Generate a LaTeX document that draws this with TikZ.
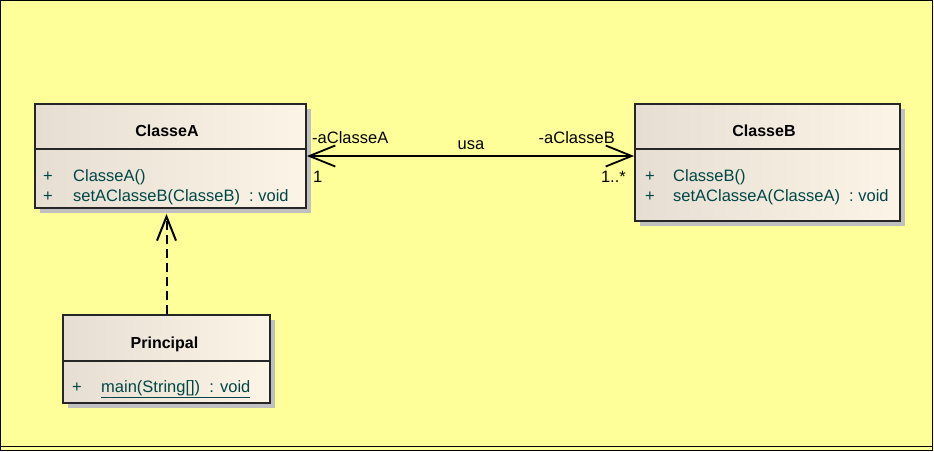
\documentclass[tikz,border=0pt]{standalone}
\usepackage{fontspec}
\setmainfont{Liberation Sans}
\usetikzlibrary{shadows}
\usetikzlibrary{positioning}
\usetikzlibrary{arrows.meta,calc}
\definecolor{bgyellow}{RGB}{255,255,153}
\definecolor{boxleft}{RGB}{230,222,210}
\definecolor{boxright}{RGB}{252,244,230}
\definecolor{shadowgrey}{RGB}{192,192,192}
\definecolor{membercol}{RGB}{0,70,70}
\tikzstyle{classbox}=[draw=black!85,line width=1.8pt,left color=boxleft,right color=boxright,inner sep=0pt,drop shadow={shadow xshift=5pt,shadow yshift=-5pt,fill=shadowgrey,opacity=1}]
\tikzstyle{title}=[font=\bfseries\fontsize{16}{19}\selectfont,anchor=base,inner sep=0pt]
\tikzstyle{member}=[font=\fontsize{16.5}{19}\selectfont,text=membercol,anchor=base west,inner sep=0pt]
\tikzstyle{role}=[font=\fontsize{16.5}{19}\selectfont,inner sep=0pt]
\tikzstyle{assoc}=[draw,line width=1.8pt,{Straight Barb[length=26pt,width=21pt]}-{Straight Barb[length=26pt,width=21pt]}]
\tikzstyle{depend}=[draw,line width=2pt,dash pattern=on 9pt off 5pt,-{Straight Barb[length=24pt,width=19pt]}]

\begin{document}
\begin{tikzpicture}[x=1pt,y=-1pt]

  % background and frame
  \fill[bgyellow] (0,0) rectangle (934,451);
  \useasboundingbox (0,0) rectangle (934,451);
  \draw[line width=1.2pt] (0.6,0.6) rectangle (932.6,450.4);
  \draw[line width=1pt] (0,446) -- (933,446);

  % classes
  \node[classbox, minimum width=271pt, minimum height=104pt] (ClasseA) at (170.5,156) {};
  \node[classbox, minimum width=265pt, minimum height=117pt] (ClasseB) at (767.5,162.5) {};
  \node[classbox, minimum width=207pt, minimum height=88pt] (Principal) at (166.5,359) {};

  \foreach \name/\dy in {ClasseA/46, ClasseB/46, Principal/47}
    \draw[draw=black!85, line width=1.8pt] ([yshift=-\dy pt]\name.north west) -- ([yshift=-\dy pt]\name.north east);

  \node[title] (tA) at (167,136) {ClasseA};
  \node[title] (tB) at (764,136) {ClasseB};
  \node[title] (tP) at (164.5,348) {Principal};

  % members
  \foreach \x/\y/\name/\label in {43/181/pA1/+, 73/181/mA1/ClasseA(), 43/201/pA2/+, 73/201/mA2/{setAClasseB(ClasseB)\ \ : void},
                                  645/181/pB1/+, 673/181/mB1/ClasseB(), 645/201/pB2/+, 673/201/mB2/{setAClasseA(ClasseA)\ \ : void},
                                  72/392/pP1/+}
    \node[member] (\name) at (\x,\y) {\label};
  \node[member] (mP1) at (101,392) {\underline{main(String[])\ \ : void}};

  % association
  \draw[assoc] (ClasseA.east) -- (ClasseA.east -| ClasseB.west);
  \node[role, anchor=base west] (rA) at (312,143) {-aClasseA};
  \node[role, anchor=base] (usa) at (471,149) {usa};
  \node[role, anchor=base east] (rB) at (615,143) {-aClasseB};
  \node[role, anchor=base west] (mA) at (313,182) {1};
  \node[role, anchor=base east] (mB) at (626,182) {1..*};

  % dependency
  \coordinate (depA) at ([yshift=-5pt]ClasseA.south);
  \draw[depend] (Principal.north) -- (Principal.north |- depA);

\end{tikzpicture}
\end{document}
